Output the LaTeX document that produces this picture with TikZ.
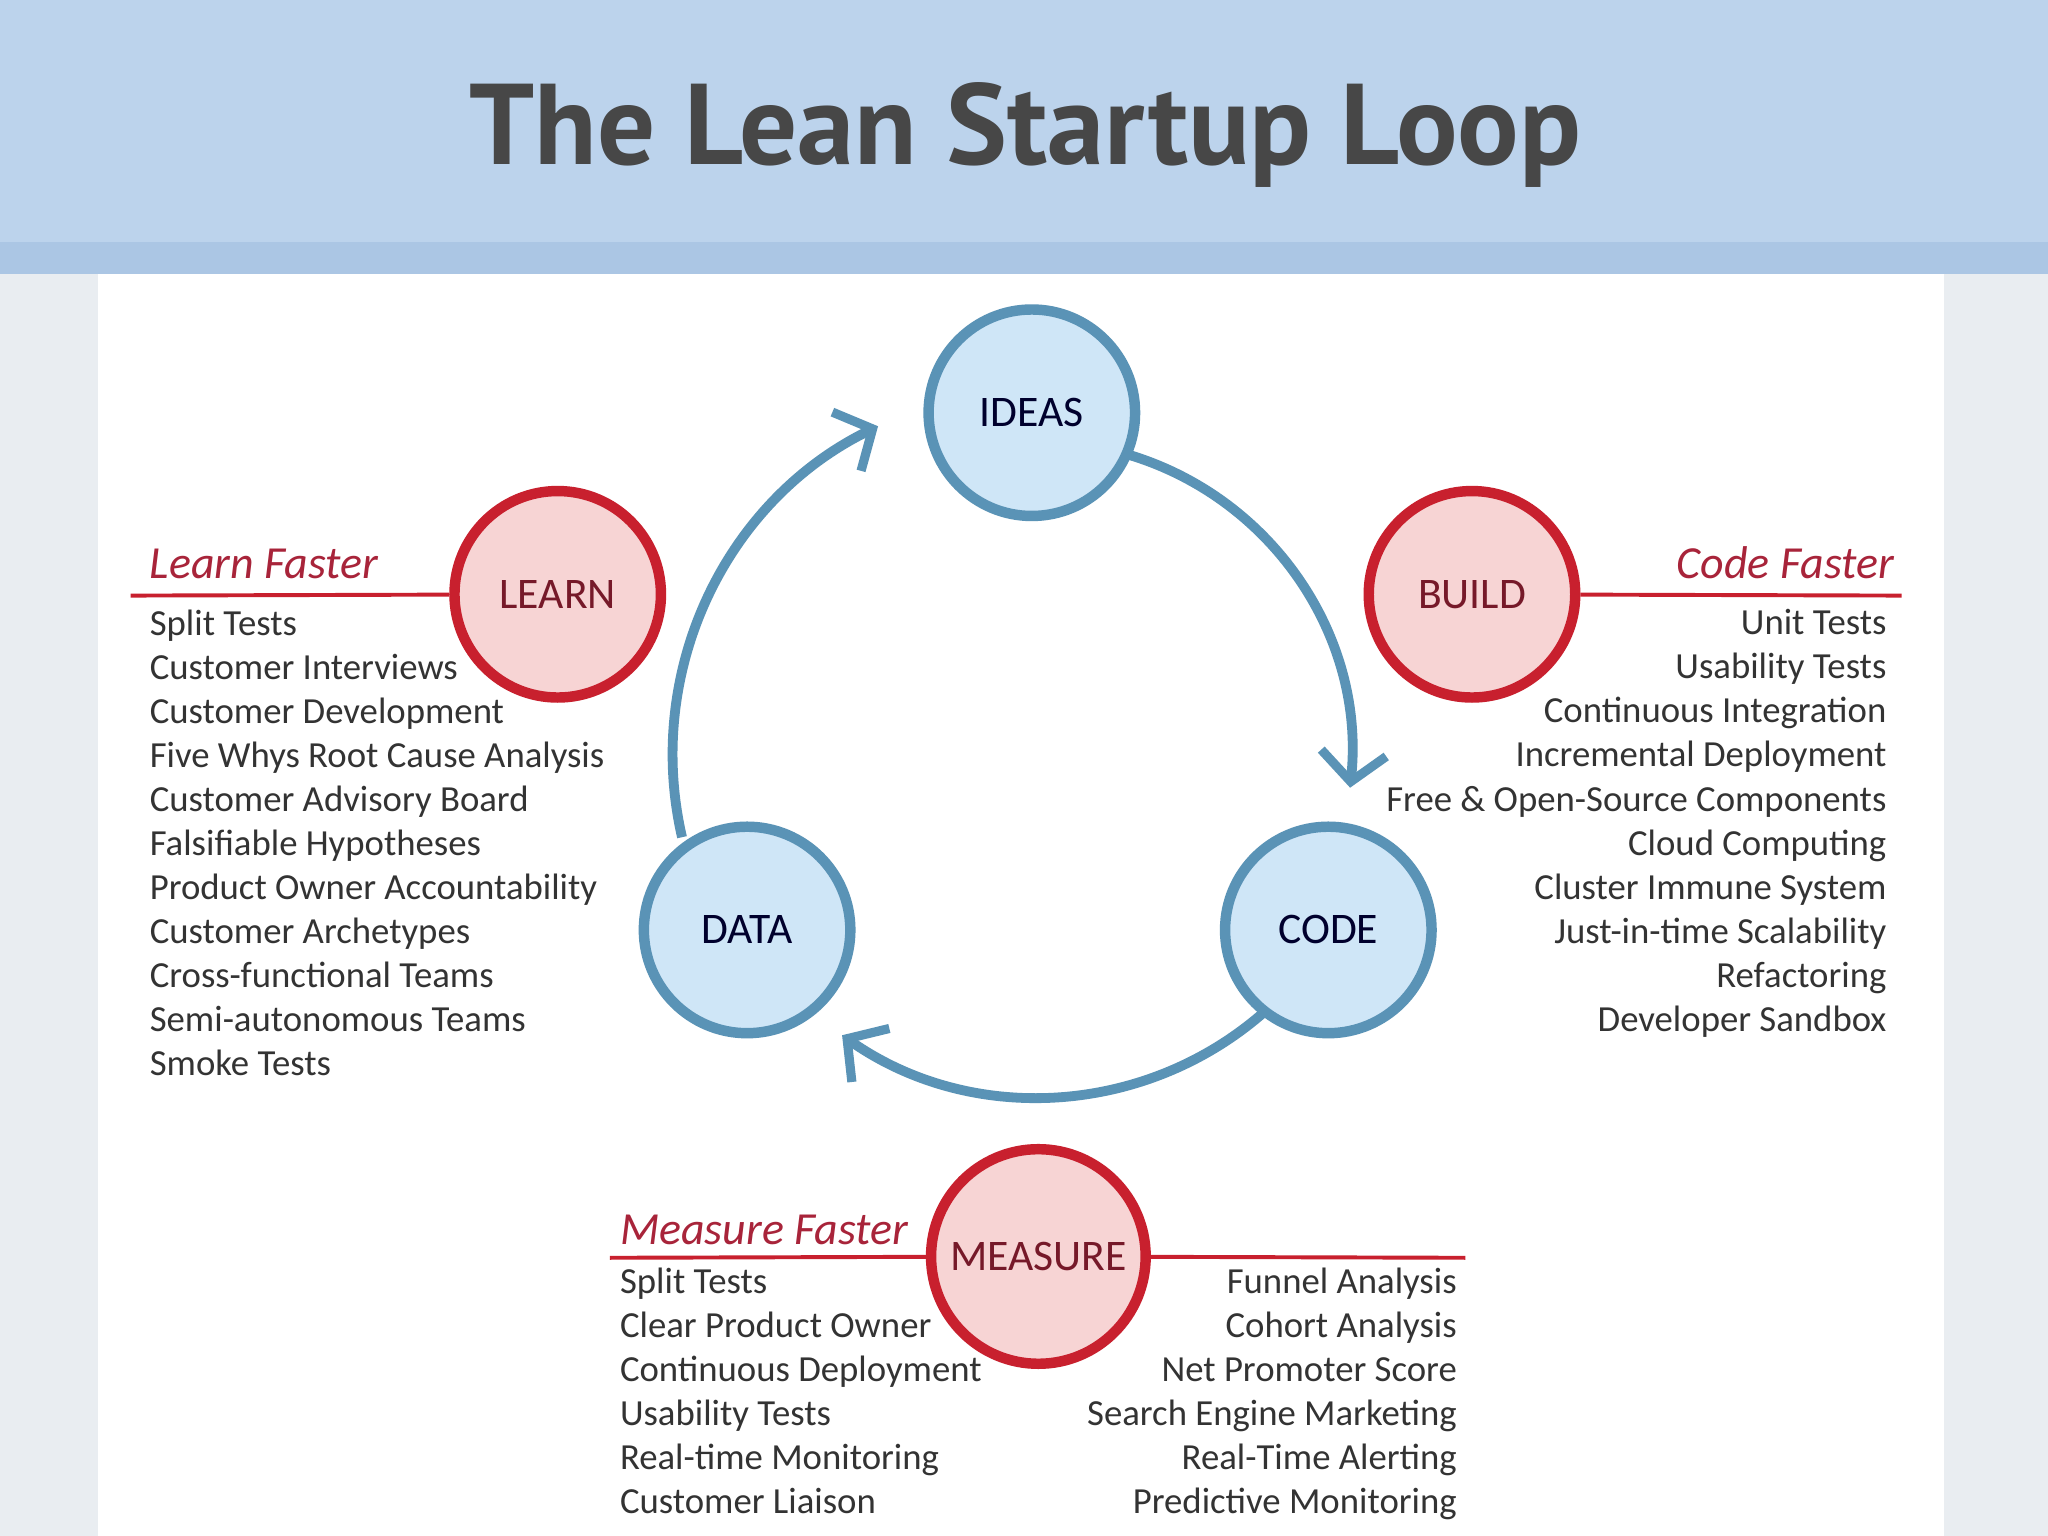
\documentclass[tikz,border=0pt]{standalone}
\usepackage{fontspec}
\setmainfont{Carlito}
\newfontfamily\titlefont{PT Sans}
\usetikzlibrary{arrows.meta,calc}
\definecolor{hdr}{HTML}{BCD3EC}
\definecolor{hdrb}{HTML}{ABC6E4}
\definecolor{side}{HTML}{E9EDF1}
\definecolor{bluestroke}{HTML}{5A93B6}
\definecolor{bluefill}{HTML}{CFE6F7}
\definecolor{redstroke}{HTML}{C8202E}
\definecolor{redfill}{HTML}{F7D4D4}
\definecolor{redtext}{HTML}{A8243A}
\definecolor{txt}{HTML}{333333}
\tikzset{
 bluecirc/.style={circle,draw=bluestroke,fill=bluefill,line width=0.08cm,minimum size=1.58cm,font=\fontsize{9.5}{11}\selectfont,text=black!75!blue!70!black},
 redcirc/.style={circle,draw=redstroke,fill=redfill,line width=0.08cm,minimum size=1.58cm,font=\fontsize{9.5}{11}\selectfont,text=redtext!70!black},
 loop/.style={draw=bluestroke,line width=0.075cm,-{Straight Barb[length=0.22cm,width=0.5cm,line width=0.07cm]}},
 redline/.style={draw=redstroke,line width=0.03cm},
 head/.style={font=\fontsize{10}{12}\selectfont\itshape,text=redtext,inner sep=0pt},
 listl/.style={font=\fontsize{8}{9.59}\selectfont,text=txt,align=left,inner sep=0pt,anchor=north west},
 listr/.style={font=\fontsize{8}{9.59}\selectfont,text=txt,align=right,inner sep=0pt,anchor=north east},
}
\begin{document}
\begin{tikzpicture}[x=0.01cm,y=-0.01cm]
\useasboundingbox (0,0) rectangle (1568,1176);
\fill[side] (0,0) rectangle (1568,1176);
\fill[hdr] (0,0) rectangle (1568,205);
\fill[hdrb] (0,185) rectangle (1568,210);
\fill[white] (75,210) rectangle (1488,1176);
\node[font=\titlefont\fontsize{25}{28}\selectfont\bfseries,text=black!72] (title) at (785,103) {The Lean Startup Loop};
% loop arcs (angles negated because y axis points down)
\coordinate (c) at (795,578);
\draw[loop] ($(c)+(-75:240)$) arc[start angle=-75,end angle=6,radius=240];
\draw[loop] ($(c)+(48:262)$) arc[start angle=48,end angle=125,radius=262];
\draw[loop] ($(c)+(-193:280)$) arc[start angle=-193,end angle=-116,radius=280];
% loop circles
\node[bluecirc] (ideas) at (790,316) {IDEAS};
\node[bluecirc] (data) at (572,712) {DATA};
\node[bluecirc] (code) at (1017,712) {CODE};
% red circles
\node[redcirc] (learn) at (427,455) {LEARN};
\node[redcirc] (build) at (1127,455) {BUILD};
\node[redcirc] (measure) at (795,962) {MEASURE};
\coordinate (ll) at (100,456);
\coordinate (br) at (1456,456);
\coordinate (ml) at (467,963);
\coordinate (mr) at (1122,963);
\draw[redline] (ll) -- (learn);
\draw[redline] (build) -- (br);
\draw[redline] (ml) -- (measure) -- (mr);
\node[head,anchor=base west] (lh) at (114,443) {Learn Faster};
\node[head,anchor=base east] (bh) at (1451,443) {Code Faster};
\node[head,anchor=base west] (mh) at (474,953) {Measure Faster};
\node[listl] (llist) at (114,466) {Split Tests\\Customer Interviews\\Customer Development\\Five Whys Root Cause Analysis\\Customer Advisory Board\\Falsifiable Hypotheses\\Product Owner Accountability\\Customer Archetypes\\Cross-functional Teams\\Semi-autonomous Teams\\Smoke Tests};
\node[listr] (blist) at (1445,466) {Unit Tests\\Usability Tests\\Continuous Integration\\Incremental Deployment\\Free \& Open-Source Components\\Cloud Computing\\Cluster Immune System\\Just-in-time Scalability\\Refactoring\\Developer Sandbox};
\node[listl] (mlist) at (474,970) {Split Tests\\Clear Product Owner\\Continuous Deployment\\Usability Tests\\Real-time Monitoring\\Customer Liaison};
\node[listr] (mrlist) at (1116,970) {Funnel Analysis\\Cohort Analysis\\Net Promoter Score\\Search Engine Marketing\\Real-Time Alerting\\Predictive Monitoring};
\end{tikzpicture}
\end{document}
